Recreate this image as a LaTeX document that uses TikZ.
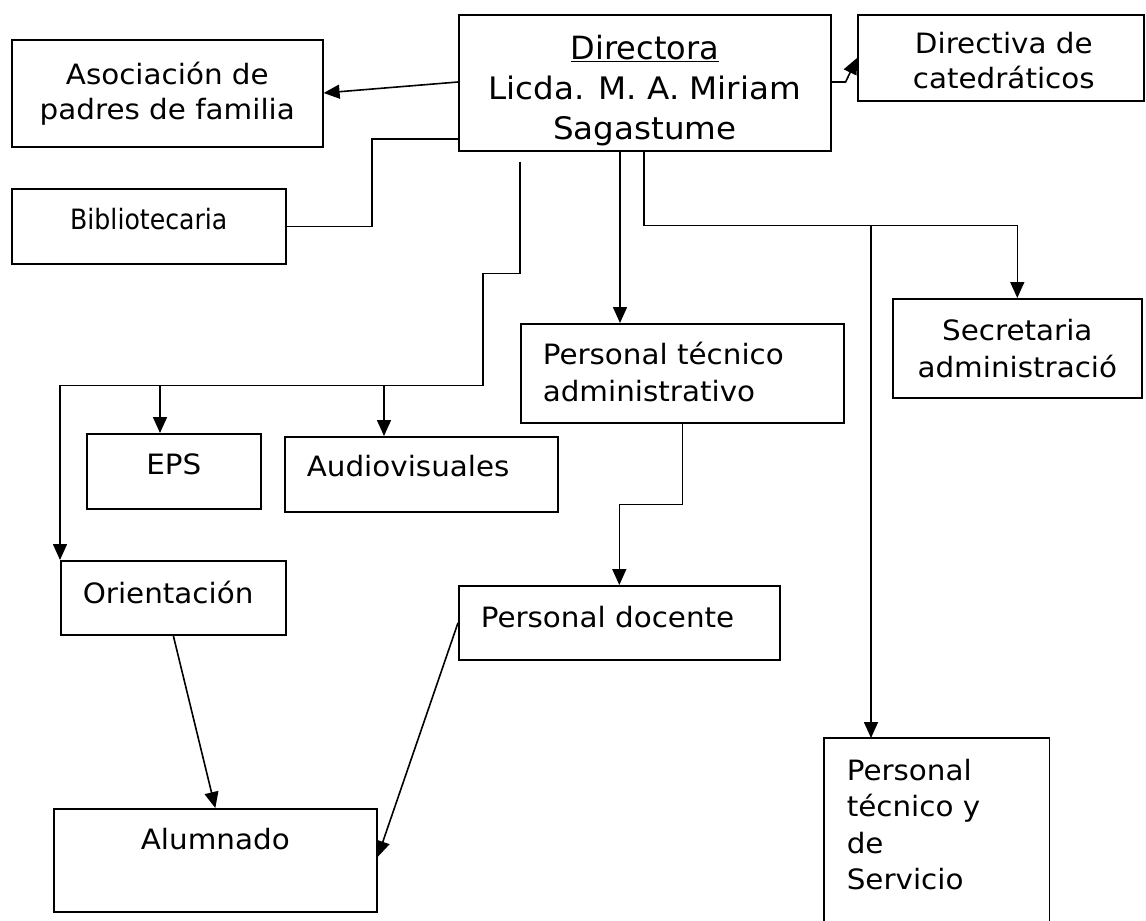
\documentclass[tikz,border=0pt]{standalone}
\usepackage{fontspec}
\setmainfont{DejaVu Sans}[FakeStretch=1.05]
\newfontfamily\plainfont{DejaVu Sans}
\newfontfamily\narrowfont{DejaVu Sans}[FakeStretch=0.9]
\usetikzlibrary{calc,positioning,arrows.meta}

\begin{document}
\begin{tikzpicture}[x=1pt,y=-1pt,line width=1.6pt,>={Triangle[length=16pt,width=14pt]},every node/.style={draw,align=center,inner sep=0pt,font=\fontsize{28}{35}\selectfont}]
\useasboundingbox (0,0) rectangle (1146,921);
\node [anchor=north west,minimum width=372pt,minimum height=136pt] (Directora) at (458,14) {};
\node [anchor=north,draw=none,font=\fontsize{31}{40}\selectfont] (DirectoraText) at ($(Directora.north)+(0,20)$) {{\plainfont\fontsize{32}{40}\selectfont\underline{Directora}}\\Licda. M. A. Miriam\\Sagastume};
\node [anchor=north west,minimum width=311pt,minimum height=107pt] (Asociacion) at (11,39) {Asociación de\\padres de familia};
\node [anchor=north west,minimum width=286pt,minimum height=86pt] (Directiva) at (857,14) {};
\node [anchor=north,draw=none] (DirectivaText) at ($(Directiva.north)+(3,17)$) {Directiva de\\catedráticos};
\node [anchor=north west,minimum width=274pt,minimum height=75pt] (Biblioteca) at (11,188) {};
\node [anchor=north,draw=none,font=\narrowfont\fontsize{28}{30}\selectfont] (BibliotecaText) at ($(Biblioteca.north)+(0,19)$) {Bibliotecaria};
\node [anchor=north west,minimum width=174pt,minimum height=75pt] (EPS) at (86,433) {};
\node [anchor=north,draw=none] (EPSText) at ($(EPS.north)+(0,20)$) {EPS};
\node [anchor=north west,minimum width=273pt,minimum height=75pt] (Audiovisuales) at (284,436) {};
\node [anchor=north west,draw=none] (AudiovisualesText) at ($(Audiovisuales.north west)+(22,18)$) {Audiovisuales};
\node [anchor=north west,minimum width=323pt,minimum height=99pt] (Tecnico) at (520,323) {};
\node [anchor=north west,draw=none,align=left,font=\fontsize{28}{37}\selectfont] (TecnicoText) at ($(Tecnico.north west)+(22,18)$) {Personal técnico\\administrativo};
\node [anchor=north west,minimum width=249pt,minimum height=99pt,font=\fontsize{28}{37}\selectfont] (Secretaria) at (892,298) {Secretaria\\administració};
\node [anchor=north west,minimum width=225pt,minimum height=74pt] (Orientacion) at (60,560) {};
\node [anchor=north west,draw=none] (OrientacionText) at ($(Orientacion.north west)+(22,20)$) {Orientación};
\node [anchor=north west,minimum width=321pt,minimum height=74pt] (Docente) at (458,585) {};
\node [anchor=north west,draw=none] (DocenteText) at ($(Docente.north west)+(22,20)$) {Personal docente};
\node [anchor=north west,minimum width=323pt,minimum height=103pt] (Alumnado) at (53,808) {};
\node [anchor=north,draw=none] (AlumnadoText) at ($(Alumnado.north)+(0,19)$) {Alumnado};
\node [anchor=north west,draw=none,minimum width=224pt,minimum height=183pt] (Servicio) at (824,738) {};
\draw (Servicio.south west) -- (Servicio.north west) -- (Servicio.north east) -- (Servicio.south east);
\node [anchor=north west,draw=none,align=left,font=\fontsize{28}{36.5}\selectfont] (ServicioText) at ($(Servicio.north west)+(22,20)$) {Personal\\técnico y\\de\\Servicio};
% conexiones de la directora
\draw [->] ($(Directora.north west)+(0,68)$) -- ($(Asociacion.north east)+(0,54)$);
\draw [->] ($(Directora.north east)+(0,68)$) -- ++(14,0) -- ($(Directiva.north west)+(0,44)$);
\draw ($(Directora.north west)+(0,125)$) -- ++(-86,0) |- (Biblioteca.east);
% rama izquierda
\coordinate (LeftTop) at ($(Directora.south west)+(62,10)$);
\coordinate (LeftBus) at ($(LeftTop)+(-37,224)$);
\draw [->] (LeftTop) -- ++(0,112) -| (LeftBus) -| (Orientacion.north west);
\coordinate (EPSIn) at ($(EPS.north west)+(74,0)$);
\draw [->] (EPSIn |- LeftBus) -- (EPSIn);
\coordinate (AudioIn) at ($(Audiovisuales.north west)+(100,0)$);
\draw [->] (AudioIn |- LeftBus) -- (AudioIn);
% rama central
\coordinate (TecnicoIn) at ($(Tecnico.north west)+(100,0)$);
\draw [->] (Directora.south -| TecnicoIn) -- (TecnicoIn);
\draw [->] (Tecnico.south) -- ++(0,81) -| (Docente.north);
% rama derecha
\coordinate (RightBus) at ($(Directora.south west)+(186,74)$);
\draw [->] (Directora.south -| RightBus) -- (RightBus) -| (Secretaria.north);
\coordinate (ServicioIn) at ($(Servicio.north west)+(47,0)$);
\draw [->] (RightBus -| ServicioIn) -- (ServicioIn);
% alumnado
\draw [->] (Orientacion.south) -- (Alumnado.north);
\draw [->] (Docente.west) -- ($(Alumnado.north east)+(0,49)$);
\end{tikzpicture}
\end{document}
